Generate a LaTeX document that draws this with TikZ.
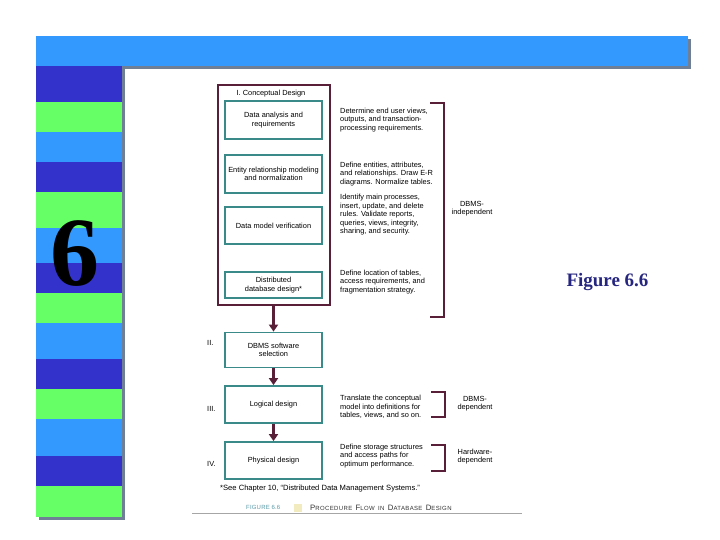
\documentclass[tikz,border=0pt]{standalone}
\usepackage{fontspec}
\setmainfont{Liberation Sans}
\newfontfamily\serifbold{Liberation Serif}
\usetikzlibrary{arrows.meta}
\definecolor{darkstripe}{HTML}{3333CC}
\definecolor{greenstripe}{HTML}{66FF66}
\definecolor{lightstripe}{HTML}{3399FF}
\definecolor{shadowgray}{HTML}{6F7F96}
\definecolor{maroonline}{HTML}{5A1F38}
\definecolor{tealline}{HTML}{3A8A8A}
\definecolor{navytext}{HTML}{262680}
\definecolor{capteal}{HTML}{5A9AA8}
\definecolor{capyellow}{HTML}{F3EBC0}
\tikzset{
  stepbox/.style={draw=tealline, line width=1.8pt, minimum width=97pt, inner sep=0pt, align=center, font=\fontsize{7.4}{8.5}\selectfont},
  desc/.style={anchor=west, align=left, inner sep=0pt, font=\fontsize{7.4}{8.5}\selectfont},
  side/.style={align=center, inner sep=0pt, font=\fontsize{7.4}{8}\selectfont},
  roman/.style={anchor=west, inner sep=0pt, font=\fontsize{7.4}{8}\selectfont},
  flow/.style={draw=maroonline, line width=2.6pt, -{Triangle[width=9pt,length=7pt]}},
  brace/.style={maroonline, line width=2pt},
}
\newcommand{\smallcapsfake}[2]{{\fontsize{7.8}{8}\selectfont #1}{\fontsize{6}{8}\selectfont #2}}
\begin{document}
\begin{tikzpicture}[x=1pt,y=-1pt]
\useasboundingbox (0,0) rectangle (720,540);
\fill[white] (0,0) rectangle (720,540);
% shadows
\fill[shadowgray] (39,39) rectangle (691,69);
\fill[shadowgray] (39,69) rectangle (125,520);
% top bar
\fill[lightstripe] (36,36) rectangle (688,66);
% stripes
\fill[darkstripe]  (36,66)    rectangle (122,101.7);
\fill[greenstripe] (36,101.7) rectangle (122,131.7);
\fill[lightstripe] (36,131.7) rectangle (122,161.7);
\fill[darkstripe]  (36,161.7) rectangle (122,191.7);
\fill[greenstripe] (36,191.7) rectangle (122,227.7);
\fill[lightstripe] (36,227.7) rectangle (122,263.3);
\fill[darkstripe]  (36,263.3) rectangle (122,293.3);
\fill[greenstripe] (36,293.3) rectangle (122,323.3);
\fill[lightstripe] (36,323.3) rectangle (122,359.3);
\fill[darkstripe]  (36,359.3) rectangle (122,389.3);
\fill[greenstripe] (36,389.3) rectangle (122,419.3);
\fill[lightstripe] (36,419.3) rectangle (122,455.7);
\fill[darkstripe]  (36,455.7) rectangle (122,485.7);
\fill[greenstripe] (36,485.7) rectangle (122,516.7);
\node[inner sep=0pt, font=\serifbold\bfseries\fontsize{98}{98}\selectfont] (six) at (74.5,253.5) {6};
\node[inner sep=0pt, text=navytext, font=\serifbold\bfseries\fontsize{19}{20}\selectfont] (figlabel) at (607.5,282) {Figure 6.6};

% conceptual design frame
\node[draw=maroonline, line width=2.2pt, minimum width=112pt, minimum height=220pt, inner sep=0pt] (outer) at (274,195) {};
\node[inner sep=0pt, font=\fontsize{7.4}{8}\selectfont] (outerlabel) at (271,94) {I. Conceptual Design};
\node[stepbox, minimum height=38pt] (s1) at (273.5,120) {Data analysis and\\requirements};
\node[stepbox, minimum height=38pt] (s2) at (273.5,174) {Entity relationship modeling\\and normalization};
\node[stepbox, minimum height=37pt] (s3) at (273.5,225.5) {Data model verification};
\node[stepbox, minimum height=26pt] (s4) at (273.5,285) {Distributed\\database design*};
\node[stepbox, minimum height=35pt] (p2) at (273.5,350) {DBMS software\\selection};
\node[stepbox, minimum height=37pt] (p3) at (273.5,404.5) {Logical design};
\node[stepbox, minimum height=37pt] (p4) at (273.5,460.5) {Physical design};

\node[roman] (r2) at (207,343) {II.};
\node[roman] (r3) at (207,409) {III.};
\node[roman] (r4) at (207,464) {IV.};

\draw[flow] (p2.north |- outer.south) -- (p2.north);
\draw[flow] (p2.south) -- (p3.north);
\draw[flow] (p3.south) -- (p4.north);

% descriptions
\node[desc] (d1) at (340,120) {Determine end user views,\\outputs, and transaction-\\processing requirements.};
\node[desc] (d2) at (340,174) {Define entities, attributes,\\and relationships. Draw E-R\\diagrams. Normalize tables.};
\node[desc] (d3) at (340,215) {Identify main processes,\\insert, update, and delete\\rules. Validate reports,\\queries, views, integrity,\\sharing, and security.};
\node[desc] (d4) at (340,282) {Define location of tables,\\access requirements, and\\fragmentation strategy.};
\node[desc] (d5) at (340,407) {Translate the conceptual\\model into definitions for\\tables, views, and so on.};
\node[desc] (d6) at (340,456) {Define storage structures\\and access paths for\\optimum performance.};

% brackets
\coordinate (b1a) at (430,103); \coordinate (b1b) at (444,103);
\coordinate (b1c) at (444,317); \coordinate (b1d) at (430,317);
\draw[brace] (b1a) -- (b1b) -- (b1c) -- (b1d);
\coordinate (b2a) at (431,392); \coordinate (b2b) at (445,392);
\coordinate (b2c) at (445,417); \coordinate (b2d) at (431,417);
\draw[brace] (b2a) -- (b2b) -- (b2c) -- (b2d);
\coordinate (b3a) at (431,445); \coordinate (b3b) at (445,445);
\coordinate (b3c) at (445,471); \coordinate (b3d) at (431,471);
\draw[brace] (b3a) -- (b3b) -- (b3c) -- (b3d);

\node[side] (l1) at (472,209) {DBMS-\\independent};
\node[side] (l2) at (475,404) {DBMS-\\dependent};
\node[side] (l3) at (475,457) {Hardware-\\dependent};

% footnote and caption
\node[anchor=west, inner sep=0pt, font=\fontsize{7.6}{8}\selectfont] (foot) at (220,489) {*See Chapter 10, ``Distributed Data Management Systems.''};
\node[anchor=west, inner sep=0pt, text=capteal, font=\fontsize{6}{7}\selectfont\addfontfeature{LetterSpace=3}] (capnum) at (246,507.5) {FIGURE 6.6};
\fill[capyellow] (294,503.5) rectangle (302,511.5);
\node[anchor=west, inner sep=0pt, text=black!80] (captitle) at (310,507.5) {\addfontfeature{LetterSpace=6}\smallcapsfake{P}{ROCEDURE} \smallcapsfake{F}{LOW} \smallcapsfake{}{IN} \smallcapsfake{D}{ATABASE} \smallcapsfake{D}{ESIGN}};
\draw[gray!70, line width=0.8pt] (192,513.5) -- (522,513.5);
\end{tikzpicture}
\end{document}
